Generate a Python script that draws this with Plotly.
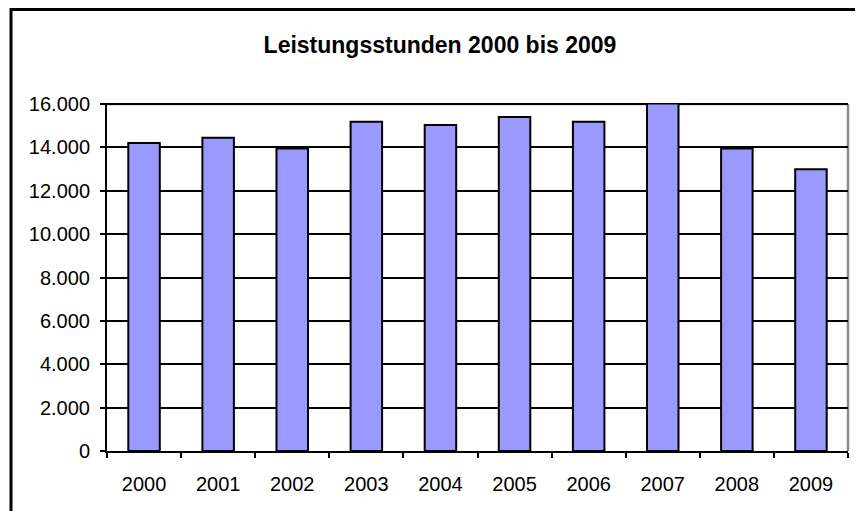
import plotly.graph_objects as go

years = ["2000", "2001", "2002", "2003", "2004", "2005", "2006", "2007", "2008", "2009"]
stunden = [14200, 14450, 13950, 15180, 15030, 15410, 15180, 16030, 13950, 13000]
y_ticks = [0, 2000, 4000, 6000, 8000, 10000, 12000, 14000, 16000]
title_text = "Leistungsstunden 2000 bis 2009"

FONT = "Liberation Sans, Arial, sans-serif"

fig = go.Figure(
    go.Bar(
        x=years,
        y=stunden,
        marker=dict(color="#9999FF", line=dict(color="black", width=2)),
        cliponaxis=False,
        hoverinfo="x+y",
    )
)

# figure sits 8px into the page (default body margin)
W, H = 855, 503
L, R, T, B = 99, 15, 95, 60
pw, ph = W - L - R, H - T - B


def px_x(x):
    return (x - L) / pw


def px_y(y):
    return (H - B - y) / ph


fig.update_layout(
    width=W,
    height=H,
    margin=dict(l=L, r=R, t=T, b=B, pad=0),
    paper_bgcolor="white",
    plot_bgcolor="white",
    separators=",.",
    bargap=0.575,
    showlegend=False,
    font=dict(family=FONT, size=20, color="black"),
    title=dict(
        text="<b>" + title_text + "</b>",
        font=dict(family=FONT, size=23, color="black"),
        x=432 / W,
        xanchor="center",
        xref="container",
        y=1 - 37 / H,
        yanchor="middle",
        yref="container",
    ),
    xaxis=dict(
        type="category",
        showgrid=False,
        showline=True,
        linecolor="black",
        linewidth=2,
        ticks="outside",
        tickson="boundaries",
        ticklen=5,
        tickwidth=2,
        tickcolor="black",
        ticklabelstandoff=14,
        tickfont=dict(family=FONT, size=20, color="black"),
        zeroline=False,
    ),
    yaxis=dict(
        range=[0, 16050],
        tickvals=y_ticks,
        tickformat=",.0f",
        showgrid=True,
        gridcolor="black",
        gridwidth=1.5,
        showline=True,
        linecolor="black",
        linewidth=2,
        ticks="outside",
        ticklen=5,
        tickwidth=2,
        tickcolor="black",
        ticklabelstandoff=6,
        tickfont=dict(family=FONT, size=20, color="black"),
        zeroline=False,
    ),
    shapes=[
        # plot-area border (top and right, grey)
        dict(type="line", xref="x domain", yref="y", x0=0, x1=1, y0=16000, y1=16000,
             line=dict(color="#8C8C8C", width=2.5), layer="below"),
        dict(type="line", xref="x domain", yref="y", x0=1, x1=1, y0=0, y1=16000,
             line=dict(color="#8C8C8C", width=2.5), layer="below"),
        # outer chart frame
        dict(type="rect", xref="paper", yref="paper",
             x0=px_x(3), x1=px_x(852), y0=px_y(515), y1=px_y(1.5),
             line=dict(color="black", width=3), fillcolor="rgba(0,0,0,0)", layer="above"),
    ],
)

fig.write_html("out.html")
